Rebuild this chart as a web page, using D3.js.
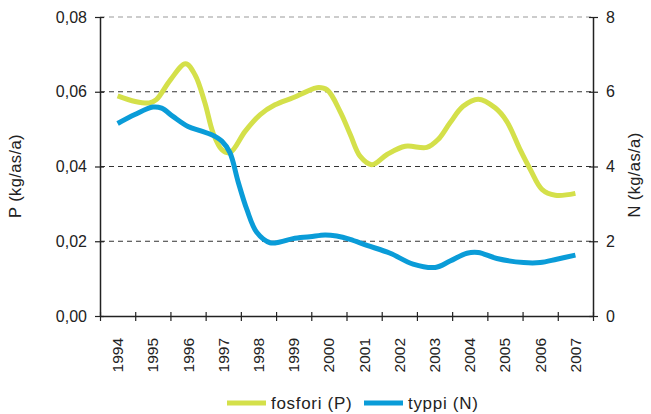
<!DOCTYPE html>
<html>
<head>
<meta charset="utf-8">
<script src="https://cdn.jsdelivr.net/npm/d3@7"></script>
<style>
  body { margin: 0; background: #fff; }
  text { font-family: "Liberation Sans", Arial, sans-serif; fill: #222; }
</style>
</head>
<body>
<div id="chart"></div>
<script>
// year labels on the x axis
const years = [1994, 1995, 1996, 1997, 1998, 1999, 2000, 2001, 2002, 2003, 2004, 2005, 2006, 2007];

// fosfori (P), kg/as/a (fractional years)
const pTime = [1994.0, 1994.5, 1994.9, 1995.1, 1995.5, 1995.93, 1996.2, 1996.48, 1996.71, 1996.96, 1997.19,
  1997.62, 1998.05, 1998.47, 1998.98, 1999.38, 1999.66, 1999.95, 2000.32, 2000.61, 2000.89, 2001.22,
  2001.65, 2002.17, 2002.78, 2003.1, 2003.44, 2003.81, 2004.24, 2004.72, 2005.05, 2005.43, 2005.72,
  2006.05, 2006.43, 2007.0];
const pValues = [0.0589, 0.0574, 0.0570, 0.0579, 0.0632, 0.0675, 0.0645, 0.0570, 0.0490, 0.0445, 0.0437,
  0.0494, 0.0539, 0.0565, 0.0584, 0.0601, 0.0611, 0.0605, 0.0547, 0.0485, 0.0427, 0.0405,
  0.0432, 0.0454, 0.0451, 0.0472, 0.0517, 0.0561, 0.0580, 0.0557, 0.0521, 0.0445, 0.0392,
  0.0339, 0.0323, 0.0328];

// typpi (N), kg/as/a
const nTime = [1994.0, 1994.49, 1995.0, 1995.25, 1995.57, 1996.0, 1996.34, 1996.67, 1996.96, 1997.19, 1997.42,
  1997.67, 1997.95, 1998.33, 1998.61, 1998.98, 1999.46, 1999.89, 2000.22, 2000.6, 2001.08, 2001.74,
  2002.39, 2003.02, 2003.44, 2003.92, 2004.24, 2004.77, 2005.53, 2006.0, 2006.47, 2007.0];
const nValues = [5.15, 5.39, 5.59, 5.56, 5.34, 5.07, 4.96, 4.85, 4.68, 4.37, 3.60,
  2.85, 2.24, 1.96, 1.98, 2.07, 2.12, 2.17, 2.14, 2.05, 1.89, 1.68,
  1.39, 1.30, 1.47, 1.68, 1.70, 1.54, 1.43, 1.43, 1.52, 1.63];

const pTicks = [0, 0.02, 0.04, 0.06, 0.08];
const nTicks = [0, 2, 4, 6, 8];

const width = 651;
const height = 414;
const margin = { top: 17, right: 58, bottom: 98, left: 100 };

const svg = d3.select('#chart').append('svg')
  .attr('width', width)
  .attr('height', height);

const x0 = margin.left;
const x1 = width - margin.right;
const y0 = height - margin.bottom;
const y1 = margin.top;

// band scale for the year labels, linear scale for the lines
const xBand = d3.scaleBand().domain(years).range([x0, x1]);
const xScale = d3.scaleLinear().domain([1993.5, 2007.5]).range([x0, x1]);
const yP = d3.scaleLinear().domain([0, 0.08]).range([y0, y1]);
const yN = d3.scaleLinear().domain([0, 8]).range([y0, y1]);

// dashed gridlines
svg.append('g')
  .selectAll('line')
  .data(pTicks.slice(1))
  .enter()
  .append('line')
  .attr('x1', x0)
  .attr('x2', x1)
  .attr('y1', d => yP(d))
  .attr('y2', d => yP(d))
  .attr('stroke', d => d === 0.08 ? '#999' : '#333')
  .attr('stroke-width', 1)
  .attr('stroke-dasharray', '5,4');

// left axis
const fmtP = d => d3.format('.2f')(d).replace('.', ',');
const leftAxis = svg.append('g')
  .attr('transform', `translate(${x0},0)`)
  .call(d3.axisLeft(yP).tickValues(pTicks).tickFormat(fmtP).tickSizeInner(5).tickSizeOuter(0));

// right axis
const rightAxis = svg.append('g')
  .attr('transform', `translate(${x1},0)`)
  .call(d3.axisRight(yN).tickValues(nTicks).tickSizeInner(5).tickSizeOuter(0));

// bottom axis, ticks at band edges
const bottomAxis = svg.append('g')
  .attr('transform', `translate(0,${y0})`)
  .call(d3.axisBottom(xScale).tickValues(d3.range(1993.5, 2008, 1)).tickFormat('').tickSizeInner(5).tickSizeOuter(0));

[leftAxis, rightAxis, bottomAxis].forEach(g => {
  g.select('.domain').attr('stroke', '#222').attr('stroke-width', 1.5);
  g.selectAll('.tick line').attr('stroke', '#222').attr('stroke-width', 1.2);
  g.selectAll('.tick text').style('font-size', '16px').attr('fill', '#222')
    .style('font-family', '"Liberation Sans", Arial, sans-serif');
});
// ticks cross the axis line
leftAxis.selectAll('.tick line').attr('x1', 4).attr('x2', -5);
rightAxis.selectAll('.tick line').attr('x1', -4).attr('x2', 5);
bottomAxis.selectAll('.tick line').attr('y1', -4).attr('y2', 5);
leftAxis.selectAll('.tick text').attr('x', -13);
rightAxis.selectAll('.tick text').attr('x', 13);

// rotated year labels
svg.append('g')
  .selectAll('text')
  .data(years)
  .enter()
  .append('text')
  .attr('transform', d => `translate(${xBand(d) + xBand.bandwidth() / 2 + 5.5},${y0 + 22}) rotate(-90)`)
  .attr('text-anchor', 'end')
  .style('font-size', '15.5px')
  .text(d => d);

// axis titles
svg.append('text')
  .attr('transform', `translate(21,176) rotate(-90)`)
  .attr('text-anchor', 'middle')
  .style('font-size', '16.5px')
  .style('letter-spacing', '0.4px')
  .text('P (kg/as/a)');

svg.append('text')
  .attr('transform', `translate(640,175) rotate(-90)`)
  .attr('text-anchor', 'middle')
  .style('font-size', '16.5px')
  .style('letter-spacing', '0.4px')
  .text('N (kg/as/a)');

const colorP = '#d4e04a';
const colorN = '#0a9cd8';

const lineP = d3.line()
  .x((d, i) => xScale(pTime[i]))
  .y(d => yP(d))
  .curve(d3.curveCatmullRom.alpha(0.5));

const lineN = d3.line()
  .x((d, i) => xScale(nTime[i]))
  .y(d => yN(d))
  .curve(d3.curveCatmullRom.alpha(0.5));

svg.append('path')
  .datum(pValues)
  .attr('d', lineP)
  .attr('fill', 'none')
  .attr('stroke', colorP)
  .attr('stroke-width', 5)
  .attr('stroke-linejoin', 'round');

svg.append('path')
  .datum(nValues)
  .attr('d', lineN)
  .attr('fill', 'none')
  .attr('stroke', colorN)
  .attr('stroke-width', 5)
  .attr('stroke-linejoin', 'round');

// legend
const legend = [
  { name: 'fosfori (P)', color: colorP, x: 227 },
  { name: 'typpi (N)', color: colorN, x: 364 }
];
const lg = svg.append('g');
legend.forEach(item => {
  lg.append('line')
    .attr('x1', item.x)
    .attr('x2', item.x + 39)
    .attr('y1', 403)
    .attr('y2', 403)
    .attr('stroke', item.color)
    .attr('stroke-width', 5);
  lg.append('text')
    .attr('x', item.x + 44)
    .attr('y', 408.5)
    .style('font-size', '17px')
    .style('letter-spacing', '0.7px')
    .text(item.name);
});
</script>
</body>
</html>
